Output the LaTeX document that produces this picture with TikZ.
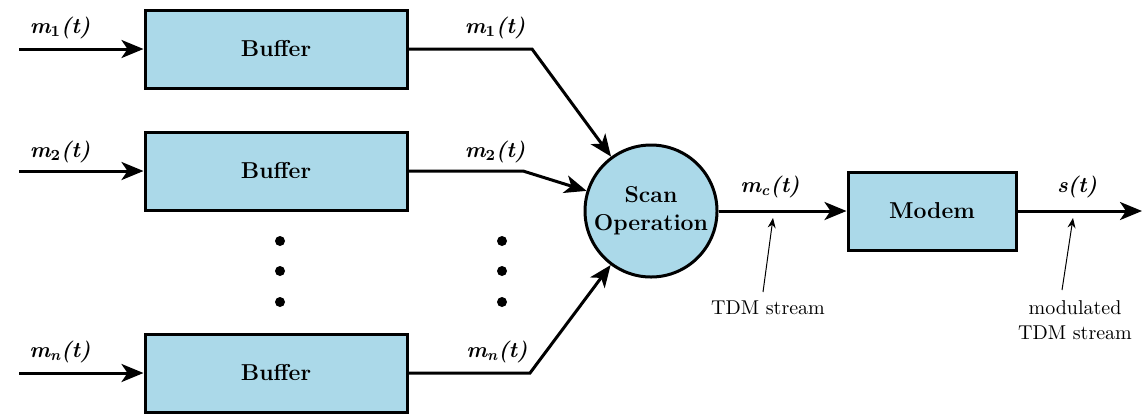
\documentclass[tikz,border=0pt]{standalone}
\usetikzlibrary{arrows.meta,positioning}
\definecolor{bfill}{HTML}{ABD9E9}
\tikzset{
  box/.style={draw=black,line width=1.5pt,fill=bfill,align=center,inner sep=2pt,font=\fontsize{11.5}{14}\selectfont\bfseries},
  bufbox/.style={box,minimum width=131pt,minimum height=39pt},
  scanc/.style={box,circle,minimum size=66pt,inner sep=1pt},
  ar/.style={-{Stealth[length=11pt,width=9pt,inset=3pt]},line width=1.5pt},
  lbl/.style={font=\fontsize{11}{13}\selectfont\bfseries\itshape},
  note/.style={font=\fontsize{10}{12.5}\selectfont,align=center,inner sep=1pt},
  nar/.style={-{Stealth[length=5pt,width=4pt]},line width=0.5pt},
  vdot/.style={circle,fill=black,inner sep=0pt,minimum size=5pt},
}
\newcommand{\sig}[2]{#1\textsubscript{#2}(t)}

\begin{document}
\begin{tikzpicture}[x=0.5pt,y=-0.5pt]
  \useasboundingbox (0,0) rectangle (1143,414);
  % buffers
  \node[bufbox] (buf1) at (276,49) {Buffer};
  \node[bufbox] (buf2) at (276,171) {Buffer};
  \node[bufbox] (bufn) at (276,373) {Buffer};
  \node[scanc] (scan) at (651,211) {Scan\\Operation};
  \node[box,minimum width=84pt,minimum height=39pt] (modem) at (932,211) {Modem};
  % inputs
  \coordinate (in1) at (19,49);
  \coordinate (in2) at (19,171);
  \coordinate (inn) at (19,373);
  \draw[ar] (in1) -- (buf1);
  \draw[ar] (in2) -- (buf2);
  \draw[ar] (inn) -- (bufn);
  \node[lbl] (li1) at (60,28) {\sig{m}{\upshape 1}};
  \node[lbl] (li2) at (60,152) {\sig{m}{\upshape 2}};
  \node[lbl] (lin) at (60,352) {\sig{m}{n}};
  % buffer outputs to scanner
  \coordinate (k1) at (532,49);
  \coordinate (k2) at (523,171);
  \coordinate (kn) at (530,373);
  \draw[ar] (buf1) -- (k1) -- (scan);
  \draw[ar] (buf2) -- (k2) -- (scan);
  \draw[ar] (bufn) -- (kn) -- (scan);
  \node[lbl] (lo1) at (495,28) {\sig{m}{\upshape 1}};
  \node[lbl] (lo2) at (495,152) {\sig{m}{\upshape 2}};
  \node[lbl] (lon) at (497,352) {\sig{m}{n}};
  % dots
  \foreach \x in {280,502}
    \foreach \y in {241,271,302}
      \node[vdot] at (\x,\y) {};
  % scanner to modem to line
  \coordinate (out) at (1142,211);
  \draw[ar] (scan) -- (modem);
  \draw[ar] (modem) -- (out);
  \node[lbl] (lmc) at (770,187) {\sig{m}{c}};
  \node[lbl] (ls) at (1077,187) {\textit{s}(t)};
  % notes
  \node[note] (tdm) at (768,308) {TDM stream};
  \node[note] (mtdm) at (1075,320) {modulated\\TDM stream};
  \coordinate (tdmtip) at (773,218);
  \coordinate (mtdmtip) at (1073,218);
  \draw[nar] (763,292) -- (tdmtip);
  \draw[nar] (1062,290) -- (mtdmtip);
\end{tikzpicture}
\end{document}
